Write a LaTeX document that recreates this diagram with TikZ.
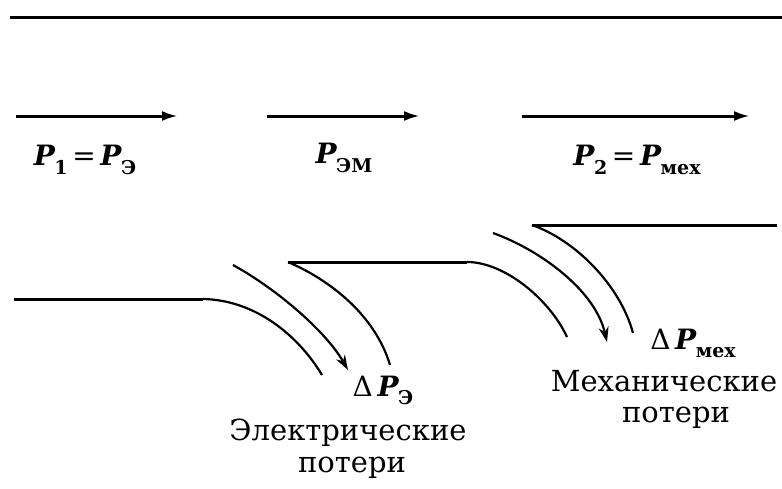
\documentclass[tikz,border=0pt]{standalone}
\usepackage{fontspec}
\setmainfont{DejaVu Serif}
\usetikzlibrary{positioning,arrows.meta}
\newcommand{\Pb}[1]{\textbf{\textit{P}}\kern-0.04em\raisebox{-0.3em}{\bfseries\fontsize{19}{21}\selectfont #1}}

\begin{document}
\begin{tikzpicture}[x=1pt,y=-1pt,
  >={Stealth[length=15pt,width=10pt]},
  flow/.style={line width=3pt,-{Latex[length=16pt,width=10pt]}},
  edge/.style={line width=3pt},
  loss/.style={line width=2.2pt},
  lbl/.style={font=\fontsize{28}{30}\selectfont, inner sep=1pt},
  txt/.style={font=\fontsize{29}{31}\selectfont, align=center, inner sep=1pt}]
  \useasboundingbox (0,0) rectangle (782,488);
  %  -- - top boundary  -- -
  \coordinate (t0) at (10,17);
  \coordinate (t1) at (782,17);
  \draw[edge] (t0) -- (t1);
  %  -- - power flow  -- -
  \coordinate (a1s) at (16,116);  \coordinate (a1e) at (178,116);
  \coordinate (a2s) at (267,116); \coordinate (a2e) at (420,116);
  \coordinate (a3s) at (522,116); \coordinate (a3e) at (750,116);
  \draw[flow] (a1s) -- (a1e);
  \draw[flow] (a2s) -- (a2e);
  \draw[flow] (a3s) -- (a3e);
  \node[lbl] (p1) at (85,160) {\Pb{1}\,=\,\Pb{Э}};
  \node[lbl] (pem) at (344,158) {\Pb{ЭМ}};
  \node[lbl] (p2) at (637,160) {\Pb{2}\,=\,\Pb{мех}};
  %  -- - electrical losses  -- -
  \coordinate (b0) at (14,299);
  \coordinate (b1) at (203,299);
  \coordinate (e1) at (322,375);
  \coordinate (e2s) at (233,265);
  \coordinate (e2) at (348,370);
  \coordinate (m0) at (288,262);
  \coordinate (e3) at (390,365);
  \draw[edge] (b0) -- (b1);
  \draw[loss] (b1) .. controls (255,300) and (298,335) .. (e1);
  \draw[loss,->] (e2s) .. controls (275,288) and (325,330) .. (e2);
  \draw[loss] (m0) .. controls (330,280) and (375,315) .. (e3);
  \node[lbl, anchor=base] (dpe) at (383,396) {Δ\,\Pb{Э}};
  \node[txt] (el) at (348,433) {Электрические};
  \node[txt] (el2) at (352,468) {потери};
  %  -- - mechanical losses  -- -
  \coordinate (m1) at (467,262);
  \coordinate (f1) at (567,337);
  \coordinate (f2s) at (493,233);
  \coordinate (f2) at (607,342);
  \coordinate (n0) at (532,225);
  \coordinate (f3) at (633,333);
  \coordinate (n1) at (777,225);
  \draw[edge] (m0) -- (m1);
  \draw[loss] (m1) .. controls (505,262) and (550,300) .. (f1);
  \draw[loss,->] (f2s) .. controls (540,250) and (595,290) .. (f2);
  \draw[loss] (n0) .. controls (575,240) and (620,285) .. (f3);
  \draw[edge] (n0) -- (n1);
  \node[lbl, anchor=base] (dpm) at (693,349) {Δ\,\Pb{мех}};
  \node[txt] (me) at (664,381) {Механические};
  \node[txt] (me2) at (676,418) {потери};
\end{tikzpicture}
\end{document}
